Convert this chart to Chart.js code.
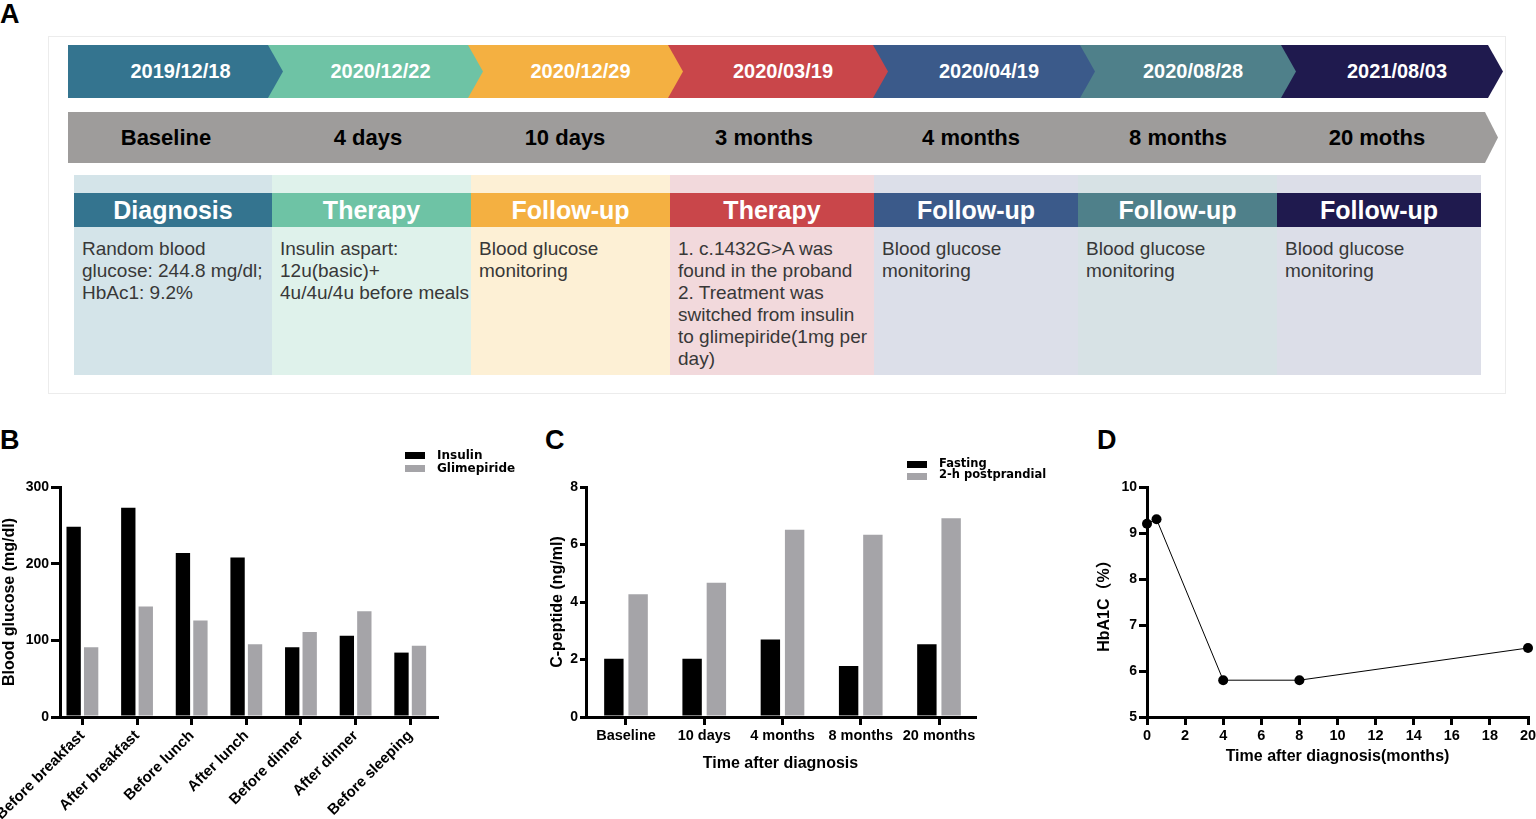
<!DOCTYPE html>
<html><head><meta charset="utf-8">
<script src="https://cdn.jsdelivr.net/npm/chart.js@4.4.1/dist/chart.umd.min.js"></script>
<style>
html,body{margin:0;padding:0;background:#fff;}
body{width:1536px;height:819px;position:relative;overflow:hidden;font-family:"Liberation Sans",Arial,Helvetica,sans-serif;}
.plabel{position:absolute;font-weight:bold;font-size:27px;line-height:27px;color:#000;}
#frame{position:absolute;left:48px;top:36px;width:1456px;height:356px;border:1px solid #ececec;}
.date{position:absolute;top:45px;height:53px;color:#fff;font-weight:bold;font-size:20px;display:flex;align-items:center;justify-content:center;box-sizing:border-box;padding-left:10px;
  clip-path:polygon(0 0,calc(100% - 15px) 0,100% 50%,calc(100% - 15px) 100%,0 100%);}
#grayBar{position:absolute;left:68px;top:112px;width:1430px;height:51px;background:#9e9c9b;
  clip-path:polygon(0 0,calc(100% - 13px) 0,100% 50%,calc(100% - 13px) 100%,0 100%);}
.period{position:absolute;top:112px;height:51px;display:flex;align-items:center;justify-content:center;font-weight:bold;font-size:22px;color:#000;}
.cell{position:absolute;top:175px;height:200px;}
.head{position:absolute;top:193px;height:34px;display:flex;align-items:center;justify-content:center;color:#fff;font-weight:bold;font-size:25px;}
.body{position:absolute;top:238px;font-size:19px;line-height:22px;color:#383838;white-space:nowrap;}
.chartBox{position:absolute;}
.leg{position:absolute;font-family:"DejaVu Sans",sans-serif;font-weight:bold;color:#000;white-space:nowrap;}
.sw{position:absolute;}
</style>
</head>
<body>
<div class="plabel" style="left:0px;top:1px;">A</div>
<div class="plabel" style="left:0px;top:427px;">B</div>
<div class="plabel" style="left:545px;top:427px;">C</div>
<div class="plabel" style="left:1097px;top:427px;">D</div>
<div id="frame"></div>
<div id="grayBar"></div>
<div id="timeline"></div>

<div class="chartBox" style="left:0px;top:440px;width:530px;height:379px;"><canvas id="chartB"></canvas></div>
<div class="chartBox" style="left:540px;top:440px;width:520px;height:379px;"><canvas id="chartC"></canvas></div>
<div class="chartBox" style="left:1080px;top:440px;width:456px;height:379px;"><canvas id="chartD"></canvas></div>

<div class="sw" style="left:405px;top:452px;width:20px;height:7px;background:#000;"></div>
<div class="sw" style="left:405px;top:465px;width:20px;height:7px;background:#a5a4a8;"></div>
<div class="leg" style="left:437px;top:448px;font-size:12px;line-height:14px;">Insulin</div>
<div class="leg" style="left:437px;top:461px;font-size:12px;line-height:14px;">Glimepiride</div>

<div class="sw" style="left:907px;top:461px;width:20px;height:7px;background:#000;"></div>
<div class="sw" style="left:907px;top:473px;width:20px;height:7px;background:#a5a4a8;"></div>
<div class="leg" style="left:939px;top:457px;font-size:11.5px;line-height:13px;">Fasting</div>
<div class="leg" style="left:939px;top:468px;font-size:11.5px;line-height:13px;">2-h postprandial</div>

<script>
// ---------- Panel A: timeline text ----------
const visitDates = ['2019/12/18','2020/12/22','2020/12/29','2020/03/19','2020/04/19','2020/08/28','2021/08/03'];
const periods = ['Baseline','4 days','10 days','3 months','4 months','8 months','20 moths'];
const stageTitles = ['Diagnosis','Therapy','Follow-up','Therapy','Follow-up','Follow-up','Follow-up'];
const stageNotes = [
  ['Random blood','glucose: 244.8 mg/dl;','HbAc1: 9.2%'],
  ['Insulin aspart:','12u(basic)+','4u/4u/4u before meals'],
  ['Blood glucose','monitoring'],
  ['1. c.1432G>A was','found in the proband','2. Treatment was','switched from insulin','to glimepiride(1mg per','day)'],
  ['Blood glucose','monitoring'],
  ['Blood glucose','monitoring'],
  ['Blood glucose','monitoring']
];
const stageColors = ['#34748f','#6ec3a5','#f4b041','#c9464a','#3b5a8a','#4f808a','#1f1a4e'];
const stageBg = ['#d4e4e9','#dff2eb','#fdf0d5','#f2d9dc','#dcdfe9','#d7e2e5','#dcdee8'];

// ---------- Panel B ----------
const mealTimes = ['Before breakfast','After breakfast','Before lunch','After lunch','Before dinner','After dinner','Before sleeping'];
const glucoseInsulin = [248, 273, 214, 208, 91, 106, 84];
const glucoseGlimepiride = [91, 144, 126, 95, 111, 138, 93];

// ---------- Panel C ----------
const cpepTimes = ['Baseline','10 days','4 months','8 months','20 months'];
const cpepFasting = [2.03, 2.03, 2.70, 1.77, 2.53];
const cpepPost = [4.27, 4.67, 6.51, 6.34, 6.91];

// ---------- Panel D ----------
const hbMonths = [0, 0.5, 4, 8, 20];
const hbValues = [9.2, 9.3, 5.8, 5.8, 6.5];

// layout of timeline
const arrowEdges = [68, 268, 468, 668, 873, 1080, 1281, 1488];
const periodCenters = [166, 368, 565, 764, 971, 1178, 1377];
const cellEdges = [74, 272, 471, 670, 874, 1078, 1277, 1481];
const tl = document.getElementById('timeline');
visitDates.forEach((d, i) => {
  const el = document.createElement('div');
  el.className = 'date';
  el.style.left = arrowEdges[i] + 'px';
  el.style.width = (arrowEdges[i+1] - arrowEdges[i] + 15) + 'px';
  el.style.background = stageColors[i];
  el.style.zIndex = 20 - i;
  el.textContent = d;
  tl.appendChild(el);
});
periods.forEach((p, i) => {
  const el = document.createElement('div');
  el.className = 'period';
  el.style.left = (periodCenters[i] - 100) + 'px';
  el.style.width = '200px';
  el.textContent = p;
  tl.appendChild(el);
});
stageTitles.forEach((t, i) => {
  const cell = document.createElement('div');
  cell.className = 'cell';
  cell.style.left = cellEdges[i] + 'px';
  cell.style.width = (cellEdges[i+1] - cellEdges[i]) + 'px';
  cell.style.background = stageBg[i];
  tl.appendChild(cell);
  const h = document.createElement('div');
  h.className = 'head';
  h.style.left = cellEdges[i] + 'px';
  h.style.width = (cellEdges[i+1] - cellEdges[i]) + 'px';
  h.style.background = stageColors[i];
  h.textContent = t;
  tl.appendChild(h);
  const b = document.createElement('div');
  b.className = 'body';
  b.style.left = (cellEdges[i] + 8) + 'px';
  stageNotes[i].forEach(line => {
    const l = document.createElement('div');
    l.textContent = line;
    b.appendChild(l);
  });
  tl.appendChild(b);
});

// ---------- Charts ----------
const FONT = '"Liberation Sans", Arial, "Noto Sans CJK SC", sans-serif';
Chart.defaults.font.family = FONT;
Chart.defaults.color = '#000';

function xAxisBase(z, size) {
  return {
    border: {display: true, color: '#000', width: 3, z: z},
    grid: {display: true, offset: false, drawOnChartArea: false, drawTicks: true, tickLength: 8, color: '#000', lineWidth: 3, z: z},
    ticks: {color: '#000', font: {family: FONT, size: size, weight: 'bold'}, padding: 2, autoSkip: false}
  };
}
function yAxisBase(z, tlen) {
  return {
    border: {display: true, color: '#000', width: 3, z: z},
    grid: {display: true, offset: false, drawOnChartArea: false, drawTicks: true, tickLength: tlen, color: '#000', lineWidth: 3, z: z},
    ticks: {color: '#000', font: {family: FONT, size: 14, weight: 'bold'}, padding: 2, autoSkip: false}
  };
}
function titleOpt(text, pad) {
  return {display: true, text: text, color: '#000', font: {family: FONT, size: 16, weight: 'bold'}, padding: pad};
}

// Panel B
(function(){
  const xa = xAxisBase(1, 15), ya = yAxisBase(1, 9);
  new Chart(document.getElementById('chartB'), {
    type: 'bar',
    data: {datasets: [
      {label: 'Insulin', data: glucoseInsulin.map((v, i) => ({x: i, y: v})), backgroundColor: '#000'},
      {label: 'Glimepiride', data: glucoseGlimepiride.map((v, i) => ({x: i, y: v})), backgroundColor: '#a5a4a8'}
    ]},
    options: {
      responsive: true, maintainAspectRatio: false, animation: false,
      categoryPercentage: 0.64, barPercentage: 0.82,
      layout: {padding: {left: 0, top: 47, right: 93, bottom: 0}},
      plugins: {legend: {display: false}, tooltip: {enabled: false}},
      scales: {
        x: Object.assign(xa, {
          type: 'linear', min: -0.41, max: 6.49, offset: false,
          afterBuildTicks: s => { s.ticks = mealTimes.map((_, i) => ({value: i})); },
          afterFit: s => { s.height = 102; s.paddingLeft = 0; s.paddingRight = 0; },
          ticks: Object.assign(xa.ticks, {minRotation: 45, maxRotation: 45, callback: v => mealTimes[v]})
        }),
        y: Object.assign(ya, {
          min: 0, max: 300,
          ticks: Object.assign(ya.ticks, {stepSize: 100}),
          afterFit: s => { s.width = 60; },
          title: titleOpt('Blood glucose (mg/dl)', {top: 0, bottom: 0})
        })
      }
    }
  });
})();

// Panel C
(function(){
  const xa = xAxisBase(1, 14.5), ya = yAxisBase(1, 6);
  new Chart(document.getElementById('chartC'), {
    type: 'bar',
    data: {datasets: [
      {label: 'Fasting', data: cpepFasting.map((v, i) => ({x: i, y: v})), backgroundColor: '#000'},
      {label: '2-h postprandial', data: cpepPost.map((v, i) => ({x: i, y: v})), backgroundColor: '#a5a4a8'}
    ]},
    options: {
      responsive: true, maintainAspectRatio: false, animation: false,
      categoryPercentage: 0.62, barPercentage: 0.8,
      layout: {padding: {left: 0, top: 47, right: 85, bottom: 0}},
      plugins: {legend: {display: false}, tooltip: {enabled: false}},
      scales: {
        x: Object.assign(xa, {
          type: 'linear', min: -0.511, max: 4.46, offset: false,
          afterBuildTicks: s => { s.ticks = cpepTimes.map((_, i) => ({value: i})); },
          afterFit: s => { s.height = 102; s.paddingLeft = 0; s.paddingRight = 0; },
          ticks: Object.assign(xa.ticks, {minRotation: 0, maxRotation: 0, callback: v => cpepTimes[v]}),
          title: titleOpt('Time after diagnosis', {top: 0, bottom: 46})
        }),
        y: Object.assign(ya, {
          min: 0, max: 8,
          ticks: Object.assign(ya.ticks, {stepSize: 2}),
          afterFit: s => { s.width = 46; },
          title: titleOpt('C-peptide (ng/ml)', {top: 8, bottom: 0})
        })
      }
    }
  });
})();

// Panel D
(function(){
  const xa = xAxisBase(0, 14.5), ya = yAxisBase(0, 8);
  new Chart(document.getElementById('chartD'), {
    type: 'scatter',
    data: {datasets: [{
      label: 'HbA1C', data: hbMonths.map((m, i) => ({x: m, y: hbValues[i]})),
      showLine: true, borderColor: '#000', borderWidth: 1,
      pointRadius: 5, pointBackgroundColor: '#000', pointBorderColor: '#000', pointBorderWidth: 0,
      clip: false
    }]},
    options: {
      responsive: true, maintainAspectRatio: false, animation: false,
      layout: {padding: {left: 0, top: 47, right: 8, bottom: 0}},
      plugins: {legend: {display: false}, tooltip: {enabled: false}},
      scales: {
        x: Object.assign(xa, {
          type: 'linear', min: 0, max: 20,
          ticks: Object.assign(xa.ticks, {stepSize: 2, maxRotation: 0}),
          afterFit: s => { s.height = 102; s.paddingLeft = 0; s.paddingRight = 0; },
          title: titleOpt('Time after diagnosis(months)', {top: 0, bottom: 53})
        }),
        y: Object.assign(ya, {
          min: 5, max: 10,
          ticks: Object.assign(ya.ticks, {stepSize: 1}),
          afterFit: s => { s.width = 67; },
          title: titleOpt('HbA1C（%）', {top: 15, bottom: 0})
        })
      }
    }
  });
})();
</script>
</body></html>
